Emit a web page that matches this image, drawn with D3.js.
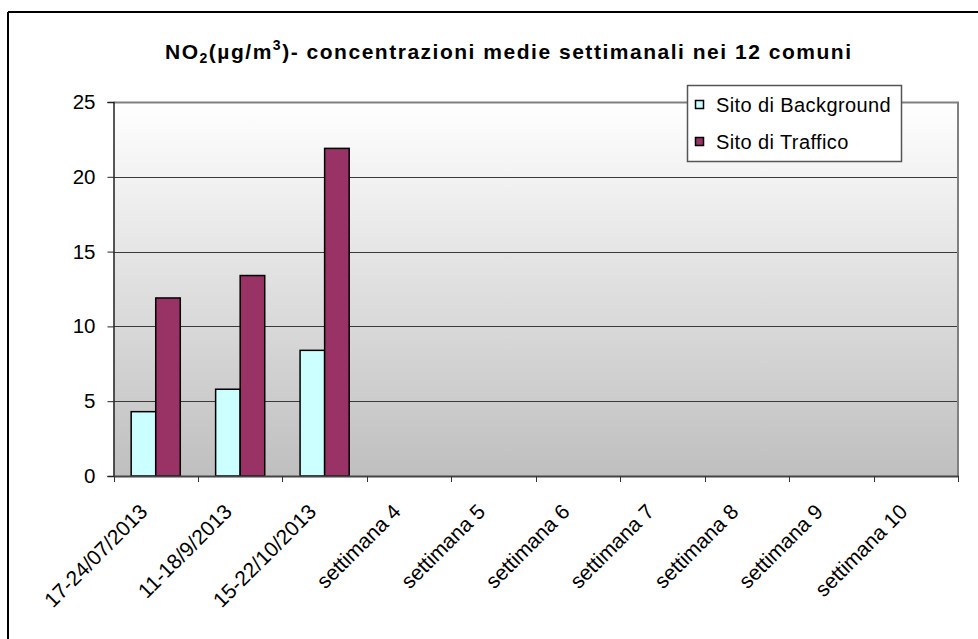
<!DOCTYPE html>
<html>
<head>
<meta charset="utf-8">
<script src="https://cdn.jsdelivr.net/npm/d3@7/dist/d3.min.js"></script>
<style>
  html, body { margin: 0; padding: 0; background: #fff; }
  svg { display: block; font-family: "Liberation Sans", Arial, sans-serif; }
</style>
</head>
<body>
<svg id="chart" width="978" height="639"></svg>
<script>
const categories = ["17-24/07/2013", "11-18/9/2013", "15-22/10/2013", "settimana 4", "settimana 5",
  "settimana 6", "settimana 7", "settimana 8", "settimana 9", "settimana 10"];
const seriesNames = ["Sito di Background", "Sito di Traffico"];
const background = [4.3, 5.8, 8.4, null, null, null, null, null, null, null];
const traffico = [11.9, 13.4, 21.9, null, null, null, null, null, null, null];
const yTicks = [0, 5, 10, 15, 20, 25];
const colors = ["#ccffff", "#993366"];

const svg = d3.select("#chart");
const W = 978, H = 639;
const plot = { left: 113.5, right: 958, top: 102, bottom: 476 };
const FONT = "'Liberation Sans', Arial, sans-serif";

// outer border (left & top visible)
svg.append("line").attr("x1", 8).attr("y1", 12).attr("x2", W).attr("y2", 12)
  .attr("stroke", "#000").attr("stroke-width", 2);
svg.append("line").attr("x1", 8).attr("y1", 12).attr("x2", 8).attr("y2", H)
  .attr("stroke", "#000").attr("stroke-width", 2);

// gradient
const defs = svg.append("defs");
const grad = defs.append("linearGradient").attr("id", "bg").attr("x1", 0).attr("y1", 0).attr("x2", 0).attr("y2", 1);
grad.append("stop").attr("offset", "0%").attr("stop-color", "#ffffff");
grad.append("stop").attr("offset", "100%").attr("stop-color", "#bfbfbf");

const x = d3.scaleBand().domain(categories).range([plot.left, plot.right]).paddingInner(0).paddingOuter(0);
const x1 = d3.scaleBand().domain(seriesNames).range([0, x.bandwidth()]).paddingInner(0).paddingOuter(0.72);
const y = d3.scaleLinear().domain([0, 25]).range([plot.bottom, plot.top]);

svg.append("rect").attr("x", plot.left).attr("y", plot.top)
  .attr("width", plot.right - plot.left).attr("height", plot.bottom - plot.top)
  .attr("fill", "url(#bg)");

// gridlines
svg.append("g").selectAll("line").data(yTicks.filter(d => d > 0 && d < 25)).join("line")
  .attr("x1", plot.left).attr("x2", plot.right)
  .attr("y1", d => Math.round(y(d)) + 0.5).attr("y2", d => Math.round(y(d)) + 0.5)
  .attr("stroke", "#3a3a3a").attr("stroke-width", 1);

// plot border top & right
svg.append("path")
  .attr("d", `M${plot.left},${plot.top + 0.5}H${plot.right}V${plot.bottom}`)
  .attr("fill", "none").attr("stroke", "#808080").attr("stroke-width", 2);

// bars
const seriesData = [background, traffico];
seriesData.forEach((vals, si) => {
  svg.append("g").selectAll("rect")
    .data(categories.map((c, i) => ({ c, v: vals[i] })).filter(d => d.v != null))
    .join("rect")
    .attr("x", d => x(d.c) + x1(seriesNames[si]))
    .attr("y", d => y(d.v))
    .attr("width", x1.bandwidth())
    .attr("height", d => y(0) - y(d.v))
    .attr("fill", colors[si])
    .attr("stroke", "#000").attr("stroke-width", 1.5);
});

// y axis
const yAxis = d3.axisLeft(y).tickValues(yTicks).tickSize(6).tickPadding(12).tickFormat(d3.format("d"));
const gy = svg.append("g").attr("transform", `translate(${plot.left},0)`).call(yAxis);
gy.attr("font-size", null).attr("font-family", null);
gy.select(".domain").attr("stroke", "#222").attr("stroke-width", 1.5);
gy.selectAll(".tick line").attr("stroke", "#222");
gy.selectAll(".tick text").style("font-size", "20.5px").attr("fill", "#000")
  .style("font-family", FONT);

// x axis
const xAxis = d3.axisBottom(x).tickSize(0).tickFormat("");
const gx = svg.append("g").attr("transform", `translate(0,${plot.bottom})`).call(xAxis);
gx.select(".domain").attr("stroke", "#444").attr("stroke-width", 2);
const boundaries = categories.map(c => x(c)).concat([x(categories[categories.length - 1]) + x.bandwidth()]);
gx.append("g").selectAll("line").data(boundaries).join("line")
  .attr("x1", d => Math.round(d) + 0.5).attr("x2", d => Math.round(d) + 0.5)
  .attr("y1", 0).attr("y2", 6).attr("stroke", "#333").attr("stroke-width", 1);

svg.append("g").selectAll("text").data(categories).join("text")
  .attr("transform", d => `translate(${x(d) + x.bandwidth() / 2 - 7},${plot.bottom + 37}) rotate(-45)`)
  .attr("text-anchor", "end")
  .style("font-size", "21px")
  .style("font-family", FONT)
  .attr("fill", "#000")
  .text(d => d);

// title
const title = svg.append("text").attr("x", 165).attr("y", 59)
  .style("font-size", "21px").style("font-family", FONT).attr("font-weight", "bold").attr("fill", "#000");
title.append("tspan").text("NO");
title.append("tspan").style("font-size", "14px").attr("dy", 4).text("2");
title.append("tspan").attr("dy", -4).text("(µg/m");
title.append("tspan").style("font-size", "14px").attr("dy", -9).text("3");
title.append("tspan").attr("dy", 9).text(")- concentrazioni medie settimanali nei 12 comuni");
title.attr("textLength", 686).attr("lengthAdjust", "spacing");

// legend
const lg = svg.append("g");
lg.append("rect").attr("x", 687.5).attr("y", 85.5).attr("width", 214).attr("height", 76)
  .attr("fill", "#fff").attr("stroke", "#555").attr("stroke-width", 1.5);
seriesNames.forEach((s, i) => {
  const yy = 104.5 + i * 37;
  lg.append("rect").attr("x", 695.5).attr("y", yy - 4).attr("width", 8).attr("height", 8)
    .attr("fill", colors[i]).attr("stroke", "#000").attr("stroke-width", 1.5);
  lg.append("text").attr("x", 716).attr("y", yy + 7.5)
    .style("font-size", "20px").style("font-family", FONT).style("letter-spacing", "0.4px")
    .attr("fill", "#000").text(s);
});
</script>
</body>
</html>
